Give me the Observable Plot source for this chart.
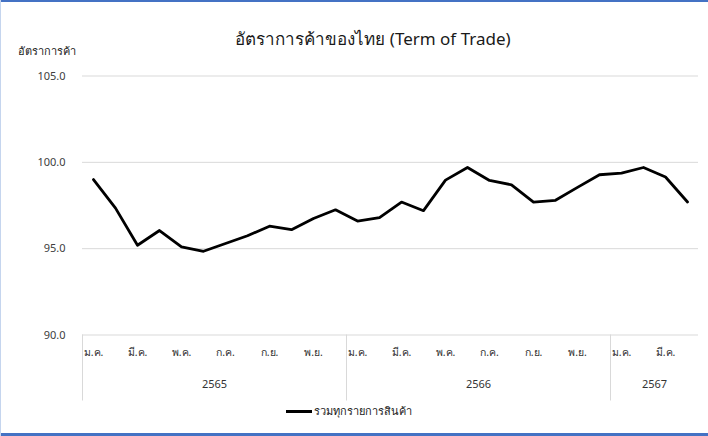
<!DOCTYPE html>
<html>
<head>
<meta charset="utf-8">
<script src="https://cdn.jsdelivr.net/npm/d3@7"></script>
<script src="https://cdn.jsdelivr.net/npm/@observablehq/plot@0.6"></script>
<style>
  html, body { margin: 0; padding: 0; background: #fff; }
  #wrap { position: relative; width: 708px; height: 436px; overflow: hidden; background: #fff;
    font-family: Tahoma, "Noto Sans", "DejaVu Sans", sans-serif; }
  #wrap svg { position: absolute; left: 0; top: 0; }
  .bt { position: absolute; left: 0; top: 0; width: 708px; height: 2px; background: #4472c4; }
  .bb { position: absolute; left: 0; top: 433px; width: 708px; height: 3px; background: #4472c4; }
  .bl { position: absolute; left: 0; top: 0; width: 1px; height: 436px; background: #c5d5ee; }
  #title { position: absolute; left: 0; width: 746px; top: 25px; text-align: center; font-size: 17px; color: #1a1a1a; }
  #ytitle { position: absolute; left: 18px; top: 42px; font-size: 11px; color: #1a1a1a; }
  #legend { position: absolute; left: 286px; top: 402px; font-size: 11px; color: #1a1a1a; display: flex; align-items: center; }
  #legend .sw { width: 26px; height: 3px; background: #000; margin-right: 2px; }
</style>
</head>
<body>
<div id="wrap">
  <div class="bt"></div><div class="bb"></div><div class="bl"></div>
  <div id="title">อัตราการค้าของไทย (Term of Trade)</div>
  <div id="ytitle">อัตราการค้า</div>
  <div id="legend"><div class="sw"></div><span>รวมทุกรายการสินค้า</span></div>
</div>
<script>
const years = ["2565", "2566", "2567"];
const monthsPerYear = [12, 12, 4];
const monthNames = ["ม.ค.", "ก.พ.", "มี.ค.", "เม.ย.", "พ.ค.", "มิ.ย.", "ก.ค.", "ส.ค.", "ก.ย.", "ต.ค.", "พ.ย.", "ธ.ค."];
const values = [
  99.0, 97.35, 95.2, 96.05, 95.1, 94.85, 95.3, 95.75, 96.3, 96.1, 96.75, 97.25,
  96.6, 96.8, 97.7, 97.2, 98.97, 99.7, 98.95, 98.7, 97.7, 97.8, 98.55, 99.28,
  99.38, 99.7, 99.15, 97.7
];
const yTicks = [90, 95, 100, 105];
const seriesName = "รวมทุกรายการสินค้า";

const data = [];
const yearSpans = [];
let idx = 0;
years.forEach((y, k) => {
  const start = idx;
  for (let m = 0; m < monthsPerYear[k]; m++) {
    data.push({ i: idx, year: y, month: monthNames[m], m, value: values[idx] });
    idx++;
  }
  yearSpans.push({ year: y, start: start - 0.5, end: idx - 0.5, mid: (start + idx - 1) / 2 });
});
const monthLabels = data.filter(d => d.m % 2 === 0);
const separators = yearSpans.map(s => s.start);

const plotH = 334.5 - 75.5;
const chart = Plot.plot({
  width: 708,
  height: 436,
  marginLeft: 82,
  marginRight: 10,
  marginTop: 75.5,
  marginBottom: 101.5,
  style: { fontFamily: "Tahoma, 'Noto Sans', 'DejaVu Sans', sans-serif", background: "transparent" },
  x: { type: "linear", domain: [-0.5, data.length - 0.5], axis: null },
  y: { domain: [90, 105], ticks: yTicks, axis: null },
  marks: [
    Plot.ruleY(yTicks, { stroke: "#d9d9d9", strokeWidth: 1 }),
    Plot.axisY({ ticks: yTicks, tickFormat: d => d.toFixed(1), tickSize: 0, tickPadding: 17, fontSize: 11, fill: "#404040", label: null }),
    Plot.ruleX(separators, { stroke: "#d9d9d9", strokeWidth: 1, insetTop: plotH, insetBottom: -66 }),
    Plot.text(monthLabels, { x: "i", y: 90, text: "month", dy: 18, fontSize: 10.5, fill: "#333333" }),
    Plot.text(yearSpans, { x: "mid", y: 90, text: "year", dy: 49, fontSize: 11, fill: "#333333" }),
    Plot.line(data, { x: "i", y: "value", stroke: "#000", strokeWidth: 2.8, strokeLinejoin: "round" })
  ]
});
document.getElementById("wrap").insertBefore(chart, document.getElementById("title"));
</script>
</body>
</html>
